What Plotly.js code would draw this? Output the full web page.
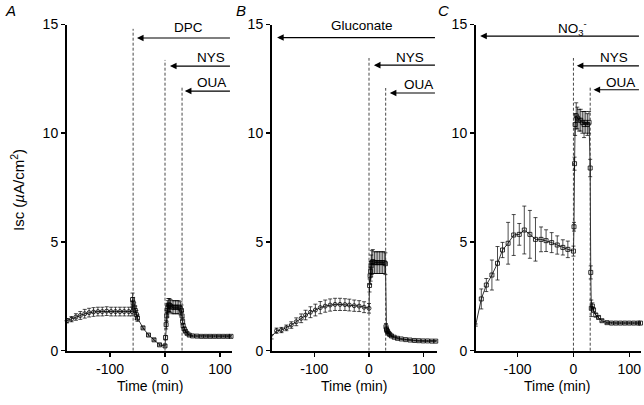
<!DOCTYPE html>
<html><head><meta charset="utf-8">
<script src="https://cdn.plot.ly/plotly-3.0.1.min.js"></script>
<style>html,body{margin:0;padding:0;background:#fff}</style>
</head><body><div id="chart" style="width:644px;height:405px"></div>
<script>
// ---------- data ----------
// Panel A (DPC)
const aTime = [-178,-170,-162,-154,-146,-138,-130,-122,-114,-106,-98,-90,-82,-74,-66,-60,
  -59,-58,-56,-54,-52,-50,-40,-30,-20,-10,0,
  1,2,3,4,5,6,8,10,13,16,19,22,25,28,30,31,32,33,35,37,40,44,50,58,66,74,82,90,98,106,114,120];
const aIsc = [1.38,1.45,1.55,1.62,1.7,1.75,1.78,1.8,1.8,1.82,1.8,1.8,1.8,1.8,1.8,1.8,
  2.35,2.2,2.0,1.85,1.65,1.5,1.05,0.72,0.5,0.27,0.22,
  0.6,1.2,1.6,1.85,2.0,2.1,2.1,2.05,2.0,2.0,2.0,2.0,2.0,1.95,1.85,1.6,1.35,1.15,1.0,0.9,0.8,0.72,0.68,0.67,0.66,0.66,0.66,0.66,0.66,0.66,0.66,0.66];
const aErr = [0.1,0.12,0.15,0.18,0.2,0.2,0.2,0.2,0.2,0.2,0.2,0.2,0.2,0.2,0.2,0.2,
  0.3,0.25,0.2,0.2,0.2,0.15,0.05,0.05,0.05,0.05,0.05,
  0.1,0.2,0.25,0.3,0.3,0.3,0.3,0.3,0.3,0.3,0.3,0.3,0.3,0.3,0.25,0.2,0.15,0.1,0.08,0.06,0.05,0.05,0.04,0.04,0.04,0.04,0.04,0.04,0.04,0.04,0.04,0.04];

// Panel B (Gluconate)
const bTime = [-178,-169,-160,-151,-142,-133,-124,-116,-107,-98,-89,-80,-71,-62,-53,-44,-36,-27,-18,-9,0,
  1,2,3,4,5,7,10,13,16,19,22,25,28,30,31,32,33,34,36,38,41,46,52,59,67,75,83,91,99,107,115,122];
const bIsc = [0.64,0.92,0.95,1.05,1.18,1.33,1.49,1.64,1.77,1.87,1.98,2.05,2.1,2.13,2.13,2.12,2.1,2.07,2.05,2.0,1.95,
  3.0,3.45,3.65,3.9,4.05,4.1,4.05,4.05,4.05,4.05,4.05,4.05,4.05,4.0,1.1,0.98,0.92,0.87,0.8,0.74,0.68,0.62,0.57,0.54,0.51,0.49,0.47,0.46,0.45,0.45,0.44,0.44];
const bErr = [0.1,0.12,0.12,0.13,0.15,0.18,0.2,0.22,0.25,0.27,0.28,0.28,0.28,0.28,0.28,0.27,0.27,0.26,0.25,0.25,0.22,
  0.3,0.4,0.45,0.5,0.55,0.55,0.5,0.5,0.5,0.5,0.5,0.5,0.5,0.5,0.15,0.12,0.1,0.08,0.07,0.06,0.05,0.04,0.04,0.03,0.03,0.03,0.03,0.03,0.03,0.03,0.03,0.03];

// Panel C (NO3-)
const cTime = [-175,-165,-156,-146,-136,-127,-117,-107,-97,-88,-78,-68,-58,-49,-39,-29,-19,-10,0,
  1,2,3,5,7,10,13,16,19,22,25,28,30,31,32,34,36,40,45,51,60,68,76,84,92,100,108,116,120];
const cIsc = [1.18,2.38,3.02,3.48,4.02,4.63,4.94,5.32,5.35,5.55,5.35,5.12,5.12,5.06,4.97,4.86,4.75,4.66,4.58,
  5.7,8.6,10.4,10.8,10.7,10.6,10.6,10.5,10.4,10.5,10.4,10.5,8.4,3.6,1.95,2.05,1.87,1.64,1.53,1.38,1.29,1.27,1.27,1.27,1.27,1.27,1.27,1.27,1.27];
const cErr = [0.05,0.46,0.3,0.69,0.77,0.35,0.96,0.94,0.5,1.1,1.1,1.0,0.57,0.5,0.46,0.42,0.35,0.38,0.23,
  0.2,0.3,0.5,0.6,0.5,0.5,0.5,0.5,0.6,0.5,0.5,0.5,0.4,0.3,0.38,0.15,0.1,0.08,0.06,0.05,0.04,0.04,0.04,0.04,0.04,0.04,0.04,0.04,0.04];

// treatment events (min)
const aEvents = {DPC: -58, NYS: 0, OUA: 31};
const bEvents = {NYS: 0, OUA: 30.5};
const cEvents = {NYS: 0, OUA: 30};
const xTicks = [-100, 0, 100];
const yTicks = [0, 5, 10, 15];

// ---------- drawing ----------
const FONT = 'Liberation Sans, Arial, Helvetica, sans-serif';
function symbols(t, baselineEnd) {
  return t.map(v => (baselineEnd !== null && v <= baselineEnd) ? 'circle-open' : 'square-open');
}
function trace(t, v, e, baselineEnd, xa, ya) {
  return {
    x: t, y: v, xaxis: xa, yaxis: ya, type: 'scatter', mode: 'lines+markers',
    line: {color: '#000', width: 0.8},
    marker: {symbol: symbols(t, baselineEnd), size: 4, color: '#000', line: {width: 0.8, color: '#000'}},
    error_y: {type: 'data', array: e, visible: true, color: '#000', thickness: 0.7, width: 2},
    cliponaxis: false, showlegend: false, hoverinfo: 'skip'
  };
}
const data = [
  trace(aTime, aIsc, aErr, aEvents.DPC - 2, 'x', 'y'),
  trace(bTime, bIsc, bErr, bEvents.NYS, 'x2', 'y2'),
  trace(cTime, cIsc, cErr, null, 'x3', 'y3')
];

const yDom = [(405 - 350.7) / 405, (405 - 24.5) / 405];
function xax(dom, range, anchor) {
  return {domain: dom, range: range, anchor: anchor, tickvals: xTicks, ticktext: xTicks.map(String),
    ticks: 'outside', ticklen: 4, tickwidth: 1.5, tickcolor: '#000', showline: true, linewidth: 2, linecolor: '#000',
    showgrid: false, zeroline: false, tickfont: {family: FONT, size: 14, color: '#000'}};
}
function yax(anchor) {
  return {domain: yDom, range: [0, 15], anchor: anchor, tickvals: yTicks, ticktext: yTicks.map(String),
    ticks: 'outside', ticklen: 4, tickwidth: 1.5, tickcolor: '#000', showline: true, linewidth: 2, linecolor: '#000',
    showgrid: false, zeroline: false, tickfont: {family: FONT, size: 14, color: '#000'}};
}
const xRanges = {A: [-178.2, 121.8], B: [-177.3, 124.3], C: [-174.5, 121]};

const shapes = [];
const annotations = [];
function vline(xa, ya, t, top) {
  shapes.push({type: 'line', xref: xa, yref: ya, x0: t, x1: t, y0: 0, y1: top,
    line: {color: '#333', width: 0.9, dash: '3px,2px'}});
}
function arrow(xa, ya, tip, end, y) {
  annotations.push({xref: xa, yref: ya, axref: xa, ayref: ya, x: tip, y: y, ax: end, ay: y, text: '',
    showarrow: true, arrowhead: 2, arrowsize: 1.1, arrowwidth: 1.2, arrowcolor: '#000', standoff: 0, startstandoff: 0});
}
function label(xa, ya, x, y, txt) {
  annotations.push({xref: xa, yref: ya, x: x, y: y, text: txt, showarrow: false, xanchor: 'center', yanchor: 'middle',
    font: {family: FONT, size: 13.5, color: '#000'}});
}
// Panel A
vline('x', 'y', aEvents.DPC, 14.8); vline('x', 'y', aEvents.NYS, 13.37); vline('x', 'y', aEvents.OUA, 12.17);
arrow('x', 'y', -51, xRanges.A[1] - 1, 14.38); arrow('x', 'y', 9, xRanges.A[1] - 1, 13.09); arrow('x', 'y', 36, xRanges.A[1] - 1, 11.94);
label('x', 'y', 42, 14.84, 'DPC'); label('x', 'y', 83, 13.5, 'NYS'); label('x', 'y', 85, 12.35, 'OUA');
// Panel B
vline('x2', 'y2', bEvents.NYS, 13.46); vline('x2', 'y2', bEvents.OUA, 12.08);
arrow('x2', 'y2', -168, xRanges.B[1] - 1, 14.4); arrow('x2', 'y2', 9, xRanges.B[1] - 1, 13.13); arrow('x2', 'y2', 38, xRanges.B[1] - 1, 11.85);
label('x2', 'y2', -13, 14.97, 'Gluconate'); label('x2', 'y2', 75, 13.5, 'NYS'); label('x2', 'y2', 91, 12.26, 'OUA');
// Panel C
vline('x3', 'y3', cEvents.NYS, 13.46); vline('x3', 'y3', cEvents.OUA, 12.12);
arrow('x3', 'y3', -167, xRanges.C[1] - 1, 14.47); arrow('x3', 'y3', 6, xRanges.C[1] - 1, 13.1); arrow('x3', 'y3', 36, xRanges.C[1] - 1, 12.0);
label('x3', 'y3', -2, 14.83, 'NO<sub>3</sub><sup>-</sup>'); label('x3', 'y3', 73, 13.46, 'NYS'); label('x3', 'y3', 85, 12.35, 'OUA');

// panel letters, axis titles
[['<i>A</i>', 10], ['<i>B</i>', 241], ['<i>C</i>', 443]].forEach(([t, px]) => {
  annotations.push({xref: 'paper', yref: 'paper', x: px / 644, y: (405 - 10) / 405, text: t, showarrow: false,
    xanchor: 'center', yanchor: 'middle', font: {family: FONT, size: 15, color: '#000'}});
});
[150, 354, 557].forEach(px => {
  annotations.push({xref: 'paper', yref: 'paper', x: px / 644, y: (405 - 386) / 405, text: 'Time (min)', showarrow: false,
    xanchor: 'center', yanchor: 'middle', font: {family: FONT, size: 14, color: '#000'}});
});
annotations.push({xref: 'paper', yref: 'paper', x: 17 / 644, y: (405 - 190) / 405, text: 'Isc (<i>µ</i>A/cm<sup>2</sup>)',
  textangle: -90, showarrow: false, xanchor: 'center', yanchor: 'middle', font: {family: FONT, size: 15, color: '#000'}});

const layout = {
  width: 644, height: 405, margin: {l: 0, r: 0, t: 0, b: 0},
  paper_bgcolor: '#fff', plot_bgcolor: '#fff', showlegend: false,
  xaxis: xax([67 / 644, 232 / 644], xRanges.A, 'y'),
  yaxis: yax('x'),
  xaxis2: xax([272 / 644, 437 / 644], xRanges.B, 'y2'),
  yaxis2: yax('x2'),
  xaxis3: xax([476 / 644, 641 / 644], xRanges.C, 'y3'),
  yaxis3: yax('x3'),
  shapes: shapes, annotations: annotations
};
Plotly.newPlot('chart', data, layout, {staticPlot: true, displayModeBar: false});
</script></body></html>
